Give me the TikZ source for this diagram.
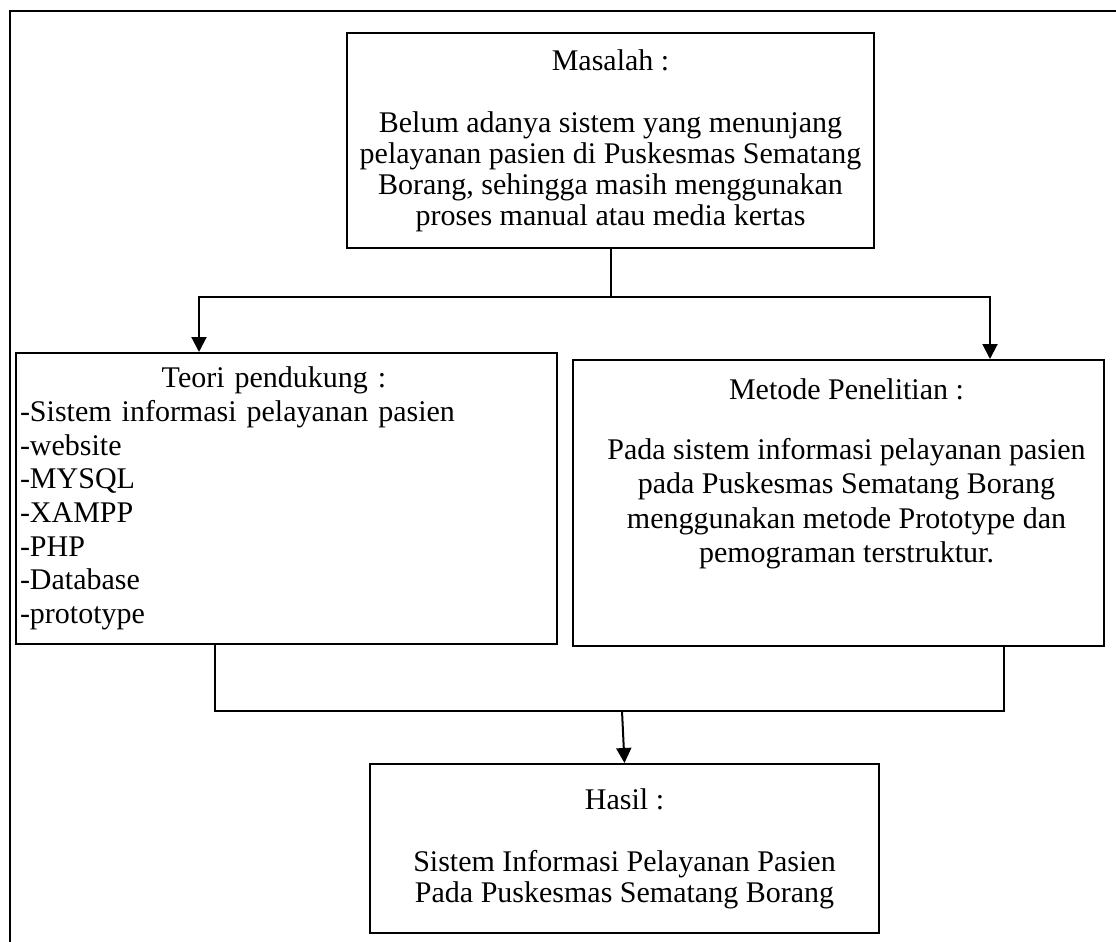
\documentclass[tikz,border=0pt]{standalone}
\usepackage{fontspec}
\setmainfont{Liberation Serif}
\usepackage{tikz}
\usetikzlibrary{arrows.meta,calc}
\tikzset{
	every node/.style = { align = center, draw },
	box/.style = { rectangle, line width=2pt, inner sep=0pt, anchor=north },
	txt/.style = { font=\fontsize{30}{#1}\selectfont },
	lnk/.style = { line width=2pt },
	tip/.style = { lnk, -{Triangle[length=15pt,width=15pt]} },
	frm/.style = { line width=2.6pt },
}

\begin{document}
\begin{tikzpicture}[x=1pt,y=-1pt]
\useasboundingbox (0,0) rectangle (1116,942);
\draw[frm] (1116,11) -- (10,11) -- (10,942);

\node (msl) [box,txt=31,minimum width=527pt,minimum height=215pt] at (610.5,32)
	{Masalah :\\[31pt]Belum adanya sistem yang menunjang\\pelayanan pasien di Puskesmas Sematang\\Borang, sehingga masih menggunakan\\proses manual atau media kertas};
\node (teo) [box,txt=33.7,align=left,text width=533pt,minimum width=541pt,minimum height=291pt] at (286.5,352)
	{\makebox[508pt]{Teori pendukung :}\\-Sistem informasi pelayanan pasien\\-website\\-MYSQL\\-XAMPP\\-PHP\\-Database\\-prototype};
\node (mtd) [box,txt=34.5,minimum width=531pt,minimum height=286pt] at (838.5,359)
	{\hspace*{16pt}Metode Penelitian :\\[25.5pt]\hspace*{16pt}Pada sistem informasi pelayanan pasien\\\hspace*{16pt}pada Puskesmas Sematang Borang\\\hspace*{16pt}menggunakan metode Prototype dan\\\hspace*{16pt}pemograman terstruktur.\\[30pt]\mbox{}};
\node (hsl) [box,txt=31,minimum width=509pt,minimum height=169pt] at (624.5,763)
	{Hasil :\\[31pt]Sistem Informasi Pelayanan Pasien\\Pada Puskesmas Sematang Borang};

\coordinate (split) at (msl.south |- 0,297);
\coordinate (lt) at (199,297);
\coordinate (rt) at (990,297);
\draw[lnk] (msl.south) -- (split);
\draw[tip] (split) -- (lt) -- (lt |- teo.north);
\draw[tip] (split) -- (rt) -- (rt |- mtd.north);

\coordinate (lb) at (215,711);
\coordinate (rb) at (1004,711);
\coordinate (join) at (622,711);
\draw[lnk] (lb |- teo.south) -- (lb) -- (rb) -- (rb |- mtd.south);
\draw[tip] (join) -- (hsl.north);
\end{tikzpicture}
\end{document}
